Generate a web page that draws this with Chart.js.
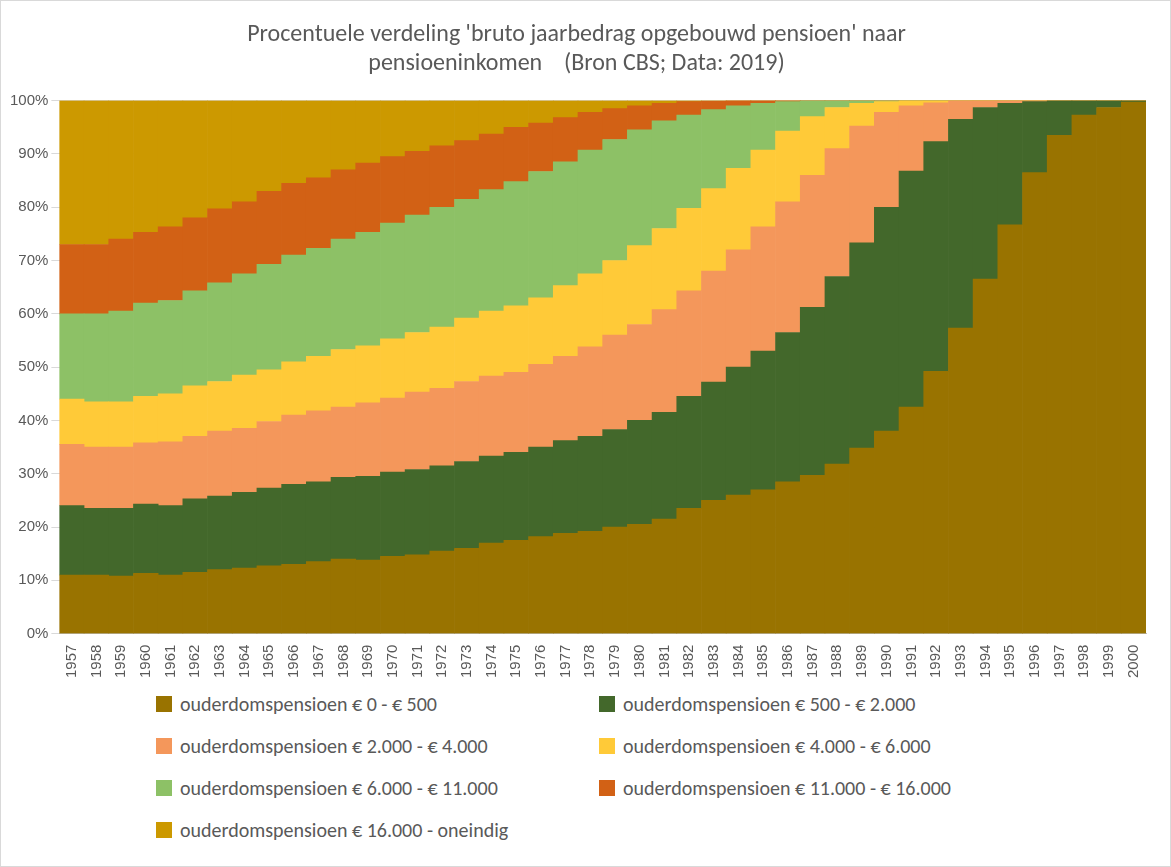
<!DOCTYPE html>
<html>
<head>
<meta charset="utf-8">
<script src="https://cdn.jsdelivr.net/npm/chart.js@4/dist/chart.umd.min.js"></script>
<style>
  html, body { margin: 0; padding: 0; background: #fff; }
  #wrap { position: relative; width: 1169px; height: 865px; border: 1px solid #d9d9d9; font-family: Calibri, "Liberation Sans", Carlito, sans-serif; }
  #legend { position: absolute; left: 155px; top: 690px; display: grid; grid-template-columns: 443px 443px; row-gap: 16px; }
  .item { display: flex; align-items: center; font-size: 20px; color: #595959; height: 26px; }
  .box { width: 16px; height: 16px; margin-right: 8px; }
</style>
</head>
<body>
<div id="wrap">
  <canvas id="chart" width="1169" height="680"></canvas>
  <div id="legend"></div>
</div>
<script>
const years = [];
for (let y = 1957; y <= 2000; y++) years.push(String(y));

const labels = [
  "ouderdomspensioen  € 0 - € 500",
  "ouderdomspensioen € 500 - € 2.000",
  "ouderdomspensioen € 2.000 - € 4.000",
  "ouderdomspensioen € 4.000 - € 6.000",
  "ouderdomspensioen € 6.000 - € 11.000",
  "ouderdomspensioen € 11.000 - € 16.000",
  "ouderdomspensioen € 16.000 - oneindig"
];
const colors = ["#997300", "#43682b", "#f4975b", "#ffca38", "#8dc166", "#d26115", "#cc9900"];

// percentages per year, 1957..2000
const p0_500 = [11, 11, 10.8, 11.3, 11, 11.5, 12, 12.3, 12.7, 13, 13.5, 14, 13.8, 14.5, 14.8, 15.5, 16, 17, 17.5, 18.2, 18.8, 19.2, 20, 20.5, 21.5, 23.5, 25, 26, 27, 28.5, 29.7, 31.8, 34.8, 38, 42.5, 49.2, 57.3, 66.5, 76.7, 86.5, 93.5, 97.3, 98.7, 99.7];
const p500_2000 = [13, 12.5, 12.7, 13, 13, 13.8, 13.8, 14.2, 14.6, 15, 15, 15.3, 15.7, 15.8, 16, 16, 16.3, 16.3, 16.5, 16.8, 17.4, 17.8, 18.3, 19.5, 20, 21, 22.2, 24, 26, 28, 31.5, 35.2, 38.5, 42, 44.3, 43.1, 39.2, 32.2, 22.8, 13.3, 6.5, 2.7, 1.3, 0.3];
const p2000_4000 = [11.5, 11.5, 11.5, 11.5, 12, 11.7, 12.2, 12, 12.5, 13, 13.3, 13.2, 13.8, 13.9, 14.5, 14.5, 15, 15, 15, 15.5, 15.8, 16.8, 17.7, 18, 19.3, 19.8, 20.8, 22, 23.3, 24.5, 24.8, 24, 21.9, 17.8, 12.2, 7.3, 3.5, 1.3, 0.5, 0.2, 0, 0, 0, 0];
const p4000_6000 = [8.5, 8.5, 8.5, 8.7, 9, 9.5, 9.3, 10, 9.7, 10, 10.2, 10.8, 10.7, 11.1, 11.2, 11.5, 11.9, 12.2, 12.5, 12.5, 13.3, 13.7, 14, 14.8, 15.2, 15.5, 15.5, 15.3, 14.4, 13.3, 11, 7.7, 4.3, 2, 1, 0.4, 0, 0, 0, 0, 0, 0, 0, 0];
const p6000_11000 = [16, 16.5, 17, 17.5, 17.5, 17.8, 18.5, 19, 19.8, 20, 20.3, 20.7, 21.3, 21.7, 22, 22.5, 22.3, 22.8, 23.3, 23.7, 23.2, 23.2, 22.7, 21.7, 20.2, 17.5, 14.8, 11.7, 8.8, 5.5, 3, 1.3, 0.5, 0.2, 0, 0, 0, 0, 0, 0, 0, 0, 0, 0];
const p11000_16000 = [13, 13, 13.5, 13.3, 13.8, 13.7, 13.9, 13.5, 13.7, 13.5, 13.2, 13, 13, 12.5, 12, 11.5, 11, 10.4, 10.2, 9.1, 8.3, 7.1, 5.8, 4.5, 3.3, 2.5, 1.6, 1, 0.5, 0.2, 0, 0, 0, 0, 0, 0, 0, 0, 0, 0, 0, 0, 0, 0];
const p16000_plus = [27, 27, 26, 24.7, 23.7, 22, 20.3, 19, 17, 15.5, 14.5, 13, 11.7, 10.5, 9.5, 8.5, 7.5, 6.3, 5, 4.2, 3.2, 2.2, 1.5, 1, 0.5, 0.2, 0.1, 0, 0, 0, 0, 0, 0, 0, 0, 0, 0, 0, 0, 0, 0, 0, 0, 0];

const series = [p0_500, p500_2000, p2000_4000, p4000_6000, p6000_11000, p11000_16000, p16000_plus];

new Chart(document.getElementById("chart"), {
  type: "bar",
  data: {
    labels: years,
    datasets: series.map((d, i) => ({
      label: labels[i],
      data: d,
      backgroundColor: colors[i],
      borderWidth: 0,
      barPercentage: 1,
      categoryPercentage: 1
    }))
  },
  options: {
    responsive: false,
    animation: false,
    layout: { padding: { left: 6, right: 24, top: 8, bottom: 0 } },
    plugins: {
      legend: { display: false },
      tooltip: { enabled: false },
      title: {
        display: true,
        text: ["Procentuele verdeling 'bruto jaarbedrag opgebouwd pensioen' naar", "pensioeninkomen    (Bron CBS; Data: 2019)"],
        color: "#595959",
        font: { family: "Calibri, 'Liberation Sans', Carlito, sans-serif", size: 24, weight: "normal" },
        padding: { top: 12, bottom: 22 },
        lineHeight: 1.3
      }
    },
    scales: {
      x: {
        stacked: true,
        grid: { display: false },
        border: { color: "#bfbfbf" },
        ticks: { color: "#595959", font: { size: 15 }, maxRotation: 90, minRotation: 90, autoSkip: false }
      },
      y: {
        stacked: true,
        min: 0, max: 100,
        grid: { color: "#d9d9d9" },
        border: { display: false },
        ticks: { stepSize: 10, color: "#595959", font: { size: 15 }, callback: v => v + "%" }
      }
    }
  }
});

const legend = document.getElementById("legend");
labels.forEach((l, i) => {
  const el = document.createElement("div");
  el.className = "item";
  el.innerHTML = '<span class="box" style="background:' + colors[i] + '"></span>' + l;
  legend.appendChild(el);
});
</script>
</body>
</html>
